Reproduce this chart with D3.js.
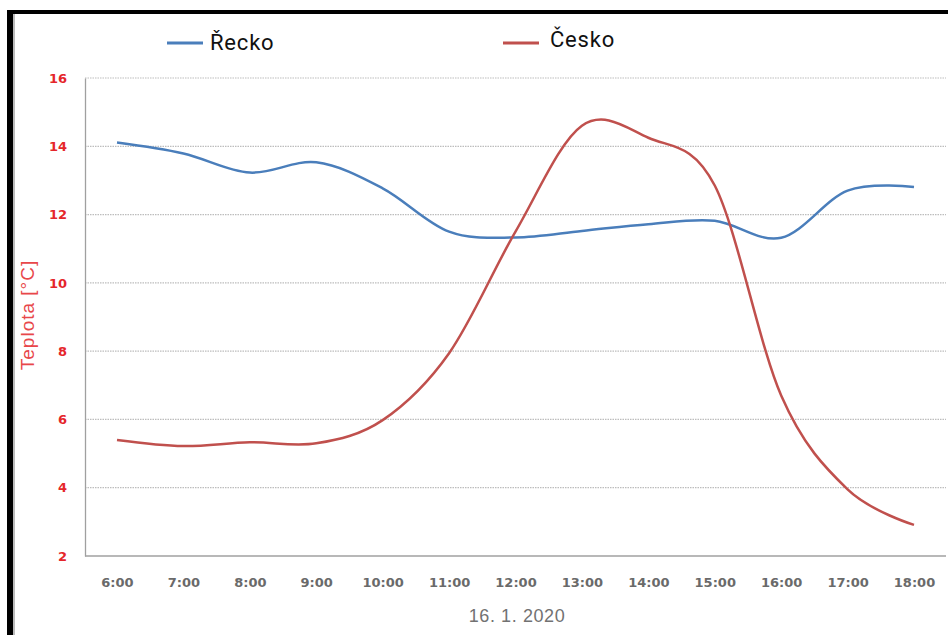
<!DOCTYPE html>
<html>
<head>
<meta charset="utf-8">
<script src="https://cdn.jsdelivr.net/npm/d3@7"></script>
<style>
  html, body { margin: 0; padding: 0; background: #fff; }
  svg { display: block; }
</style>
</head>
<body>
<svg id="chart" width="948" height="635"></svg>
<script>
const hours = ["6:00","7:00","8:00","9:00","10:00","11:00","12:00","13:00","14:00","15:00","16:00","17:00","18:00"];
const recko = [14.11, 13.79, 13.23, 13.53, 12.77, 11.5, 11.33, 11.52, 11.72, 11.82, 11.32, 12.7, 12.81];
const cesko = [5.40, 5.22, 5.33, 5.30, 5.98, 7.94, 11.5, 14.6, 14.25, 12.85, 6.7, 3.95, 2.91];
const yTicks = [2, 4, 6, 8, 10, 12, 14, 16];
const seriesNames = ["Řecko", "Česko"];
const seriesColors = ["#4a7ebb", "#c0504d"];
const xTitle = "16. 1. 2020";
const yTitle = "Teplota [°C]";

const svg = d3.select("#chart");

// frame
svg.append("rect").attr("x", 7).attr("y", 10).attr("width", 941).attr("height", 4).attr("fill", "#000");
svg.append("rect").attr("x", 7).attr("y", 10).attr("width", 6).attr("height", 625).attr("fill", "#000");
svg.append("rect").attr("x", 13).attr("y", 14).attr("width", 2).attr("height", 621).attr("fill", "#bbb");

const plotLeft = 85, plotRight = 946, plotTop = 78, plotBottom = 556;

const x = d3.scalePoint().domain(hours).range([117, 914]);
const y = d3.scaleLinear().domain([2, 16]).range([plotBottom, plotTop]);

// gridlines
svg.append("g").selectAll("line").data(yTicks.filter(d => d !== 2)).join("line")
  .attr("x1", plotLeft).attr("x2", plotRight)
  .attr("y1", d => y(d)).attr("y2", d => y(d))
  .attr("stroke", "#bdbdbd").attr("stroke-width", 1.2).attr("stroke-dasharray", "1.5,1");

// y axis
const yAxis = d3.axisLeft(y).tickValues(yTicks).tickSize(0).tickPadding(18);
const gy = svg.append("g").attr("transform", `translate(${plotLeft},0)`).call(yAxis);
gy.select(".domain").attr("stroke", "#a0a0a0").attr("stroke-width", 1.3);
gy.selectAll("text").attr("fill", "#e5262b").attr("font-family", "DejaVu Sans, Verdana, sans-serif")
  .attr("font-weight", "bold").attr("font-size", 13);

// x axis
const xAxis = d3.axisBottom(x).tickSize(0).tickPadding(22);
const gx = svg.append("g").attr("transform", `translate(0,${plotBottom})`).call(xAxis);
gx.select(".domain").attr("d", `M${plotLeft},0H${plotRight}`).attr("stroke", "#a0a0a0").attr("stroke-width", 1.3);
gx.selectAll("text").attr("fill", "#6a6a6a").attr("font-family", "DejaVu Sans, Verdana, sans-serif")
  .attr("font-weight", "bold").attr("font-size", 13);

// titles
svg.append("text").attr("x", 517).attr("y", 622).attr("text-anchor", "middle")
  .attr("font-family", "Liberation Sans, Arial, sans-serif").attr("font-size", 18)
  .attr("letter-spacing", 0.6).attr("fill", "#727272").text(xTitle);
svg.append("text").attr("transform", "translate(34,315) rotate(-90)").attr("text-anchor", "middle")
  .attr("font-family", "Liberation Sans, Arial, sans-serif").attr("font-size", 19)
  .attr("letter-spacing", 1).attr("fill", "#e8474a").text(yTitle);

// lines
const line = d3.line().x((d, i) => x(hours[i])).y(d => y(d)).curve(d3.curveCardinal.tension(0));
[recko, cesko].forEach((s, k) => {
  svg.append("path").datum(s).attr("d", line).attr("fill", "none")
    .attr("stroke", seriesColors[k]).attr("stroke-width", 2.5).attr("stroke-linejoin", "round");
});

// legend
const legendPos = [{lx: 167, tx: 210, y: 43}, {lx: 503, tx: 550, y: 43}];
seriesNames.forEach((n, k) => {
  const p = legendPos[k];
  svg.append("line").attr("x1", p.lx).attr("x2", p.lx + 36).attr("y1", p.y).attr("y2", p.y)
    .attr("stroke", seriesColors[k]).attr("stroke-width", 3);
  svg.append("text").attr("x", p.tx).attr("y", p.y + 6 + (k === 0 ? 1 : -2)).attr("font-family", "Roboto, Arial, sans-serif")
    .attr("font-size", 22).attr("letter-spacing", 0.8).attr("fill", "#111").text(n);
});
</script>
</body>
</html>
